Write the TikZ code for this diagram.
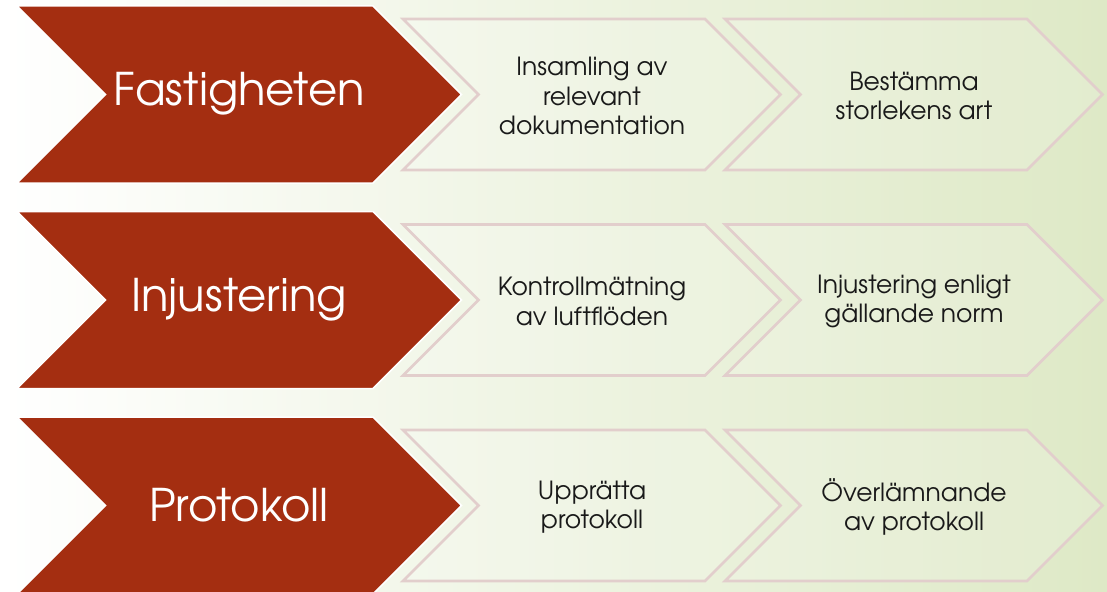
\documentclass[tikz,border=0pt]{standalone}
\usepackage{fontspec}
\setmainfont{texgyreadventor-regular.otf}
\definecolor{chevred}{RGB}{164,46,17}
\definecolor{chevline}{RGB}{226,206,204}
\definecolor{bgleft}{RGB}{255,255,255}
\definecolor{bgright}{RGB}{222,233,198}
\definecolor{txtdark}{RGB}{25,25,25}
\newcommand{\chevpath}[5]{% x1, x2, ytop, ybot, style
  \pgfmathsetmacro{\hh}{((#4)-(#3))/2}
  \pgfmathsetmacro{\ymid}{(#3)+\hh}
  \pgfmathsetmacro{\xtip}{(#2)+\hh}
  \pgfmathsetmacro{\xnotch}{(#1)+\hh}
  \path[#5] (#1,#3) -- (#2,#3) -- (\xtip,\ymid) -- (#2,#4) -- (#1,#4) -- (\xnotch,\ymid) -- cycle;}
\begin{document}
\begin{tikzpicture}[x=1pt,y=-1pt,
  bigchev/.style={fill=chevred,draw=white,line width=1.5pt,line join=miter},
  smallchev/.style={draw=chevline,line width=2.6pt,fill=white,fill opacity=0.15,line join=miter},
  bigtxt/.style={text=white,font=\fontsize{45}{48}\selectfont,inner sep=0pt},
  smalltxt/.style={text=txtdark,font=\fontsize{25}{29.5}\selectfont,align=center,inner sep=0pt}]
\useasboundingbox (0,0) rectangle (1107,591);
\shade[left color=bgleft,right color=bgright] (0,0) rectangle (1107,591);
\foreach \dy/\name/\big/\ta/\tb in {
  0/r1/Fastigheten/{Insamling av\\relevant\\dokumentation}/{Bestämma\\storlekens art},
  205.5/r2/Injustering/{Kontrollmätning\\av luftflöden}/{Injustering enligt\\gällande norm},
  411/r3/Protokoll/{Upprätta\\protokoll}/{Överlämnande\\av protokoll}}{
  \chevpath{725}{1027}{19+\dy}{170+\dy}{smallchev}
  \chevpath{403}{705}{19+\dy}{170+\dy}{smallchev}
  \chevpath{17}{373}{6+\dy}{183+\dy}{bigchev}
  \node[bigtxt] (\name big) at (239,94+\dy) {\big};
  \node[smalltxt] (\name a) at (592,96+\dy) {\ta};
  \node[smalltxt] (\name b) at (914,96+\dy) {\tb};
}
\end{tikzpicture}
\end{document}
